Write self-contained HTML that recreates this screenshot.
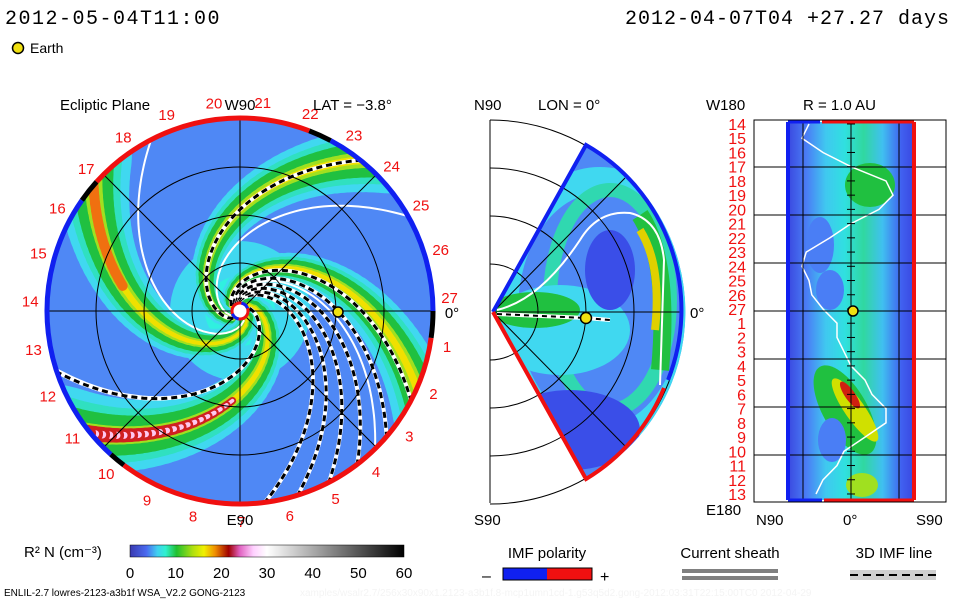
<!DOCTYPE html>
<html><head><meta charset="utf-8"><style>
html,body{margin:0;padding:0;background:#fff;width:960px;height:600px;overflow:hidden}
svg{display:block}
text{font-family:"Liberation Sans",sans-serif}
text.mono{font-family:"Liberation Mono",monospace}
</style></head><body>
<svg id="s" width="960" height="600" viewBox="0 0 960 600">
<defs>
<linearGradient id="cbar" x1="0" x2="1" y1="0" y2="0">
<stop offset="0" stop-color="#3a3ab0"/><stop offset="0.06" stop-color="#4a6af0"/><stop offset="0.1" stop-color="#40d0f0"/><stop offset="0.13" stop-color="#30f0d0"/><stop offset="0.17" stop-color="#20c030"/><stop offset="0.23" stop-color="#b0e010"/><stop offset="0.27" stop-color="#f0f000"/><stop offset="0.31" stop-color="#f09000"/><stop offset="0.36" stop-color="#a00000"/><stop offset="0.4" stop-color="#e060c0"/><stop offset="0.45" stop-color="#ffd0ff"/><stop offset="0.5" stop-color="#ffffff"/><stop offset="1" stop-color="#000000"/>
</linearGradient>
<clipPath id="cl"><circle cx="240" cy="311" r="193"/></clipPath>
<clipPath id="cm"><path d="M493 312 L586 145 A190 190 0 0 1 586 479 Z"/></clipPath>
<linearGradient id="rg" x1="0" x2="1" y1="0" y2="0">
<stop offset="0" stop-color="#3a48e0"/><stop offset="0.15" stop-color="#4a7ef5"/><stop offset="0.3" stop-color="#40c8f0"/><stop offset="0.45" stop-color="#30e0e0"/><stop offset="0.6" stop-color="#30d8a0"/><stop offset="0.75" stop-color="#40c0f0"/><stop offset="0.9" stop-color="#4060f0"/><stop offset="1" stop-color="#3a48e0"/>
</linearGradient>
</defs>
<g id="left"></g>
<g id="mid"></g>
<g id="right"></g>
<g id="leg"></g>
<text class="mono" x="5" y="24" font-size="20" letter-spacing="1.5">2012-05-04T11:00</text>
<text class="mono" x="950" y="24" font-size="20" letter-spacing="1" text-anchor="end">2012-04-07T04 +27.27 days</text>
<circle cx="18" cy="48" r="5.5" fill="#f0e010" stroke="#000" stroke-width="1.5"/>
<text x="30" y="53" font-size="14">Earth</text>
</svg>
<script>
const NS="http://www.w3.org/2000/svg";
// data arrays
const cbarTicks=[0,10,20,30,40,50,60];
const rotationLabels=[27,26,25,24,23,22,21,20,19,18,17,16,15,14,13,12,11,10,9,8,7,6,5,4,3,2,1];
const armPhase=[37,154,229,317];
const armStrength=[1.0,0.75,0.8,0.9];
const dashedPhase=[16,95,105,115,125,137,150,229];
const rightLabels=[14,15,16,17,18,19,20,21,22,23,24,25,26,27,1,2,3,4,5,6,7,8,9,10,11,12,13];
const sheathLat=[-30,-35,-20,0,25,30,20,0,-15,-32,-35,-30,-28,-20,-10,-10,-5,0,10,15,25,25,10,-5,-10,-20,-25];

function el(p,tag,attrs){const e=document.createElementNS(NS,tag);for(const k in attrs)e.setAttribute(k,attrs[k]);p.appendChild(e);return e;}
const L=document.getElementById('left'),M=document.getElementById('mid'),R=document.getElementById('right'),G=document.getElementById('leg');
const cx=240,cy=311,RR=193;
function pt(r,deg){const a=deg*Math.PI/180;return [cx+r*Math.cos(a),cy-r*Math.sin(a)];}
function sp(phi0,r){return phi0-60*Math.log(r/10);}
let bg=el(L,'circle',{cx,cy,r:RR,fill:'#4f88f5'});


const arms=el(L,'g',{'clip-path':'url(#cl)'});


el(arms,'circle',{cx,cy,r:70,fill:'#40d8f0'});
el(arms,'circle',{cx,cy,r:35,fill:'#30f0e0'});
const layers=[['#40d8f0',80],['#30e0c0',60],['#20c040',44],['#a0e020',20],['#f0e000',10]];
armPhase.forEach((p0,i)=>{
  const s=armStrength[i];
  layers.forEach(([c,w],li)=>{
    if(li===4&&s<0.75)return;
    for(let r=10;r<215;r+=5){
      const a=pt(r,sp(p0,r)),b=pt(r+6,sp(p0,r+6));
      const ww=w*s*(0.25+0.75*r/RR);
      el(arms,'line',{x1:a[0],y1:a[1],x2:b[0],y2:b[1],stroke:c,'stroke-width':ww,'stroke-linecap':'round'});
    }
  });
  if(i===0){for(let r=90;r<215;r+=5){const a=pt(r,sp(p0,r)),b=pt(r+6,sp(p0,r+6));el(arms,'line',{x1:a[0],y1:a[1],x2:b[0],y2:b[1],stroke:'#d02020','stroke-width':16*r/RR,'stroke-linecap':'round'});el(arms,'line',{x1:a[0],y1:a[1],x2:b[0],y2:b[1],stroke:'#ffc8f0','stroke-width':8*r/RR,'stroke-linecap':'round'});}}
  if(i===3){for(let r=120;r<215;r+=5){const a=pt(r,sp(p0,r)),b=pt(r+6,sp(p0,r+6));el(arms,'line',{x1:a[0],y1:a[1],x2:b[0],y2:b[1],stroke:'#f07010','stroke-width':10,'stroke-linecap':'round'});}}
});
armPhase.forEach(p0=>{let d='';for(let r=10;r<=215;r+=4){const q=pt(r,sp(p0-22,r));d+=(d?'L':'M')+q[0].toFixed(1)+' '+q[1].toFixed(1);}
  const w=el(arms,'path',{d,fill:'none',stroke:'#fff','stroke-width':2});
  
  });
dashedPhase.forEach(p0=>{let d='';for(let r=10;r<=215;r+=4){const q=pt(r,sp(p0,r));d+=(d?'L':'M')+q[0].toFixed(1)+' '+q[1].toFixed(1);}
  el(arms,'path',{d,fill:'none',stroke:'#fff','stroke-width':4});
  const k=el(arms,'path',{d,fill:'none',stroke:'#000','stroke-width':3,'stroke-dasharray':'6 4'});
  
  });
[48,96,144].forEach(r=>el(L,'circle',{cx,cy,r,fill:'none',stroke:'#000','stroke-width':1}));
el(L,'line',{x1:cx-RR,y1:cy,x2:cx+RR,y2:cy,stroke:'#000'});
el(L,'line',{x1:cx,y1:cy-RR,x2:cx,y2:cy+RR,stroke:'#000'});
[45,135].forEach(a=>{const p=pt(RR,a),q=pt(RR,a+180);el(L,'line',{x1:p[0],y1:p[1],x2:q[0],y2:q[1],stroke:'#000'});});
function arc(r,a0,a1,col,w,par){const p=pt(r,a0),q=pt(r,a1);const large=Math.abs(a1-a0)>180?1:0;
  return el(par||L,'path',{d:`M${p[0]} ${p[1]} A${r} ${r} 0 ${large} 0 ${q[0]} ${q[1]}`,fill:'none',stroke:col,'stroke-width':w});}
arc(RR,-8,0,'#000',5);arc(RR,0,62,'#1020f0',5);arc(RR,62,69,'#000',5);arc(RR,69,138,'#f01010',5);arc(RR,138,145,'#000',5);
arc(RR,145,228,'#1020f0',5);arc(RR,228,233,'#000',5);arc(RR,233,352,'#f01010',5);
el(L,'circle',{cx,cy,r:8,fill:'#fff',stroke:'#f01010','stroke-width':3});
arc(8,200,260,'#1020f0',3);arc(8,20,80,'#1020f0',3);
rotationLabels.forEach((n,i)=>{const a=3.8+i*13.33;const p=pt(210,a);
  const t=el(L,'text',{x:p[0],y:p[1]+6,'font-size':15,fill:'#f01010','text-anchor':'middle'});t.textContent=n;
  
  });
const e1=el(L,'circle',{cx:338,cy:312,r:5,fill:'#f0e010',stroke:'#000','stroke-width':1.5});


[['Ecliptic Plane',60,110,'start'],['W90',240,110,'middle'],['E90',240,525,'middle'],['0\u00b0',452,318,'middle']].forEach(([s,x,y,a])=>{const t=el(L,'text',{x,y,'font-size':15,'text-anchor':a});t.textContent=s;});
const lat=el(L,'text',{x:313,y:110,'font-size':15});lat.textContent='LAT = \u22123.8\u00b0';

// middle panel
const mx=490,my=312;
el(M,'path',{d:'M493 312 L586 145 A190 190 0 0 1 586 479 Z',fill:'#4f88f5'});
const mg=el(M,'g',{'clip-path':'url(#cm)'});
el(mg,'ellipse',{cx:600,cy:310,rx:95,ry:130,fill:'none',stroke:'#40d8f0','stroke-width':26});
el(mg,'ellipse',{cx:610,cy:300,rx:60,ry:110,fill:'none',stroke:'#30d8b0','stroke-width':14});
el(mg,'path',{d:'M640 215 Q670 260 660 370',fill:'none',stroke:'#20c040','stroke-width':18});
el(mg,'path',{d:'M640 230 Q662 265 655 330',fill:'none',stroke:'#e0d000','stroke-width':8});
el(mg,'ellipse',{cx:560,cy:330,rx:70,ry:45,fill:'#40d8f0'});
el(mg,'ellipse',{cx:535,cy:310,rx:45,ry:18,fill:'#20c040'});
el(mg,'ellipse',{cx:610,cy:270,rx:25,ry:40,fill:'#3a4ee8'});
el(mg,'ellipse',{cx:570,cy:430,rx:70,ry:40,fill:'#3a4ee8'});
el(mg,'path',{d:'M497 310 Q540 300 580 240 Q598 210 630 213 Q660 220 664 260 L660 385',fill:'none',stroke:'#fff','stroke-width':2});
[48,96,144,192].forEach(r=>el(M,'path',{d:`M${mx} ${my-r} A${r} ${r} 0 0 1 ${mx} ${my+r}`,fill:'none',stroke:'#000'}));
el(M,'line',{x1:mx,y1:120,x2:mx,y2:503,stroke:'#000'});
el(M,'line',{x1:493,y1:312,x2:682,y2:312,stroke:'#000'});
el(M,'line',{x1:493,y1:312,x2:625,y2:178,stroke:'#000'});
el(M,'line',{x1:493,y1:312,x2:625,y2:446,stroke:'#000'});
el(M,'path',{d:'M493 312 L586 145 A190 190 0 0 1 668 380',fill:'none',stroke:'#1020f0','stroke-width':4});
el(M,'path',{d:'M664 388 A190 190 0 0 1 586 479 L493 312',fill:'none',stroke:'#f01010','stroke-width':4});
el(M,'path',{d:'M497 314 L586 318 L610 320',fill:'none',stroke:'#fff','stroke-width':4});
el(M,'path',{d:'M497 314 L586 318 L610 320',fill:'none',stroke:'#000','stroke-width':2,'stroke-dasharray':'5 4'});
const e2=el(M,'circle',{cx:586,cy:318,r:5.5,fill:'#f0e010',stroke:'#000','stroke-width':1.5});


[['N90',474,110],['S90',474,525],['LON = 0\u00b0',538,110],['0\u00b0',690,318]].forEach(([s,x,y])=>{const t=el(M,'text',{x,y,'font-size':15});t.textContent=s;});

// right panel
el(R,'rect',{x:754,y:120,width:192,height:382,fill:'#fff',stroke:'#000'});
el(R,'rect',{x:788,y:122,width:126,height:378,fill:'url(#rg)'});
el(R,'ellipse',{cx:845,cy:410,rx:22,ry:50,fill:'#20c040',transform:'rotate(-30 845 410)'});
el(R,'ellipse',{cx:855,cy:410,rx:10,ry:38,fill:'#d0e000',transform:'rotate(-35 855 410)'});
el(R,'ellipse',{cx:850,cy:395,rx:5,ry:16,fill:'#d02010',transform:'rotate(-35 850 395)'});
el(R,'ellipse',{cx:870,cy:185,rx:25,ry:22,fill:'#20c040'});
el(R,'ellipse',{cx:862,cy:485,rx:16,ry:12,fill:'#a0e020'});
el(R,'ellipse',{cx:820,cy:245,rx:14,ry:28,fill:'#4a7ef5'});
el(R,'ellipse',{cx:830,cy:290,rx:14,ry:20,fill:'#4a7ef5'});
el(R,'ellipse',{cx:832,cy:440,rx:14,ry:22,fill:'#4a7ef5'});
const yL=i=>124+i*14.23;const xL=lat=>851+lat*1.4;
let dd='';sheathLat.forEach((v,i)=>{dd+=(i?'L':'M')+xL(v).toFixed(1)+' '+yL(i).toFixed(1);});
const wl=el(R,'path',{d:dd,fill:'none',stroke:'#fff','stroke-width':1.5});


[167,215,263,311,359,407,455].forEach(y=>el(R,'line',{x1:754,y1:y,x2:946,y2:y,stroke:'#000'}));
[803,851,899].forEach(x=>el(R,'line',{x1:x,y1:120,x2:x,y2:502,stroke:'#000'}));
for(let i=0;i<27;i++)el(R,'line',{x1:847,y1:yL(i),x2:855,y2:yL(i),stroke:'#000'});
el(R,'line',{x1:788,y1:122,x2:788,y2:500,stroke:'#1020f0','stroke-width':4});
el(R,'line',{x1:914,y1:122,x2:914,y2:500,stroke:'#f01010','stroke-width':4});
el(R,'line',{x1:788,y1:122,x2:820,y2:122,stroke:'#1020f0','stroke-width':3});
el(R,'line',{x1:822,y1:122,x2:914,y2:122,stroke:'#f01010','stroke-width':3});
el(R,'line',{x1:788,y1:500,x2:822,y2:500,stroke:'#1020f0','stroke-width':3});
el(R,'line',{x1:824,y1:500,x2:914,y2:500,stroke:'#f01010','stroke-width':3});
rightLabels.forEach((n,i)=>{const t=el(R,'text',{x:746,y:yL(i)+6,'font-size':16,fill:'#f01010','text-anchor':'end'});t.textContent=n;
  
  });
const e3=el(R,'circle',{cx:853,cy:311,r:5,fill:'#f0e010',stroke:'#000','stroke-width':1.5});


[['W180',706,110],['E180',706,515],['R = 1.0 AU',803,110],['N90',756,525],['0\u00b0',843,525],['S90',916,525]].forEach(([s,x,y])=>{const t=el(R,'text',{x,y,'font-size':15});t.textContent=s;});

// legend
el(G,'rect',{x:130,y:545,width:274,height:12,fill:'url(#cbar)',stroke:'#000','stroke-width':0.5});
let tt=el(G,'text',{x:24,y:557,'font-size':15});tt.textContent='R\u00b2 N (cm\u207b\u00b3)';
cbarTicks.forEach((v,i)=>{const x=130+(v/60)*274;const t=el(G,'text',{x,y:578,'font-size':15,'text-anchor':'middle'});t.textContent=v;
  
  });
[['IMF polarity',547,558],['Current sheath',730,558],['3D IMF line',894,558]].forEach(([s,x,y])=>{const t=el(G,'text',{x,y,'font-size':15,'text-anchor':'middle'});t.textContent=s;});
el(G,'rect',{x:503,y:568,width:44,height:12,fill:'#1020f0'});
el(G,'rect',{x:547,y:568,width:45,height:12,fill:'#f01010'});
el(G,'rect',{x:503,y:568,width:89,height:12,fill:'none',stroke:'#000'});
tt=el(G,'text',{x:482,y:581,'font-size':16});tt.textContent='\u2013';
tt=el(G,'text',{x:600,y:582,'font-size':16});tt.textContent='+';
el(G,'rect',{x:682,y:569,width:96,height:4,fill:'#808080'});
el(G,'rect',{x:682,y:576,width:96,height:4,fill:'#808080'});
el(G,'rect',{x:850,y:570,width:86,height:10,fill:'#d0d0d0'});
el(G,'line',{x1:850,y1:575,x2:936,y2:575,stroke:'#000','stroke-width':2,'stroke-dasharray':'8 5'});
tt=el(G,'text',{x:4,y:596,'font-size':10});tt.textContent='ENLIL-2.7 lowres-2123-a3b1f WSA_V2.2 GONG-2123';
tt=el(G,'text',{x:300,y:596,'font-size':10,fill:'#f4f4f4'});tt.textContent='xamples/wsalr2.7/256x30x90x1.2123-a3b1f.8-mcp1umn1cd-1.g53q5d2.gong-2012:03:31T22:15:00TC0    2012-04-29';
</script>
</body></html>
